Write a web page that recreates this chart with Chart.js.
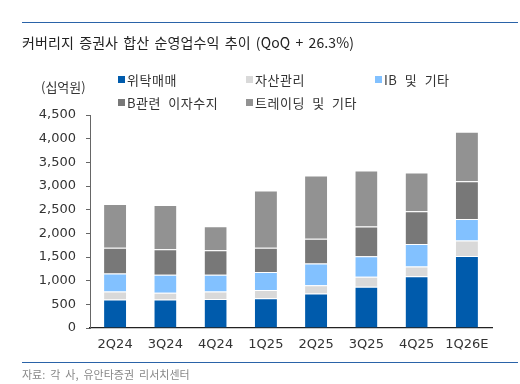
<!DOCTYPE html>
<html>
<head>
<meta charset="utf-8">
<script src="https://cdn.jsdelivr.net/npm/chart.js@4.4.1/dist/chart.umd.min.js"></script>
<style>
    body { margin: 0; background: #fff; }
    #wrap { position: relative; width: 520px; height: 384px; overflow: hidden; font-family: 'Noto Sans CJK KR', sans-serif; }
    #chart { position: absolute; left: 0; top: 0; }
    .rule { position: absolute; left: 22px; width: 496px; height: 1px; background: #2a63a8; }
    #title { position: absolute; left: 22px; top: 32px; font-size: 14px; color: #222; white-space: nowrap; word-spacing: 2px; letter-spacing: 0.1px; }
    #unit { position: absolute; left: 41px; top: 77px; font-size: 13px; color: #333; white-space: nowrap; }
    #source { position: absolute; left: 22px; top: 366px; font-size: 11px; color: #888; white-space: nowrap; word-spacing: 2.5px; }
    .lg { position: absolute; font-size: 13px; color: #333; white-space: nowrap; line-height: 14px; letter-spacing: 0.5px; word-spacing: 4px; }
    .lg i { display: inline-block; width: 7px; height: 7px; margin-right: 2px; vertical-align: 2px; }
</style>
</head>
<body>
<div id="wrap">
    <canvas id="chart" width="520" height="384"></canvas>
    <div class="rule" style="top:22px"></div>
    <div id="title">커버리지 증권사 합산 순영업수익 추이 (QoQ + 26.3%)</div>
    <div id="unit">(십억원)</div>
    <div id="legend"></div>
    <div class="rule" style="top:362px"></div>
    <div id="source">자료: 각 사, 유안타증권 리서치센터</div>
</div>
<script>
// 분기
const categories = ['2Q24', '3Q24', '4Q24', '1Q25', '2Q25', '3Q25', '4Q25', '1Q26E'];

// 항목별 순영업수익 (십억원)
const brokerage = [600, 600, 615, 630, 730, 870, 1095, 1520];   // 위탁매매
const wealth = [170, 145, 155, 175, 175, 215, 205, 330];        // 자산관리
const ib = [380, 380, 355, 380, 460, 430, 475, 455];            // IB 및 기타
const interest = [545, 540, 520, 510, 520, 630, 690, 795];      // B관련 이자수지
const trading = [925, 935, 505, 1210, 1335, 1180, 818, 1045];   // 트레이딩 및 기타

const seriesNames = ['위탁매매', '자산관리', 'IB 및 기타', 'B관련 이자수지', '트레이딩 및 기타'];
const seriesColors = ['#005bac', '#d9d9d9', '#82c1ff', '#787878', '#929292'];
const yTicks = [0, 500, 1000, 1500, 2000, 2500, 3000, 3500, 4000, 4500];

// 범례 (HTML)
const legendPos = [[118, 73], [246, 73], [375, 73], [118, 96], [246, 96]];
const legendEl = document.getElementById('legend');
seriesNames.forEach((name, i) => {
    const d = document.createElement('div');
    d.className = 'lg';
    d.style.left = legendPos[i][0] + 'px';
    d.style.top = legendPos[i][1] + 'px';
    d.innerHTML = '<i style="background:' + seriesColors[i] + '"></i>' + name;
    legendEl.appendChild(d);
});

const values = [brokerage, wealth, ib, interest, trading];
const tickFont = { family: "'DejaVu Sans', sans-serif", size: 13 };

const ctx = document.getElementById('chart').getContext('2d');
new Chart(ctx, {
    type: 'bar',
    data: {
        labels: categories,
        datasets: values.map((v, i) => ({
            label: seriesNames[i],
            data: v,
            backgroundColor: seriesColors[i],
            borderColor: 'rgba(255,255,255,0.3)',
            borderWidth: { top: 1 },
            borderSkipped: false,
            categoryPercentage: 1,
            barPercentage: 0.44
        }))
    },
    options: {
        responsive: false,
        animation: false,
        layout: { padding: { left: 0, right: 28, top: 115, bottom: 0 } },
        plugins: {
            legend: { display: false },
            title: { display: false },
            tooltip: { enabled: false }
        },
        scales: {
            x: {
                stacked: true,
                grid: { display: false, drawTicks: false },
                border: { display: true, color: '#222', width: 1.2 },
                ticks: { color: '#333', font: tickFont, padding: 9, maxRotation: 0 },
                afterFit: function (scale) { scale.height = 56; }
            },
            y: {
                stacked: true,
                min: 0,
                max: 4500,
                afterBuildTicks: function (scale) {
                    scale.ticks = yTicks.map(v => ({ value: v }));
                },
                grid: { drawOnChartArea: false, drawTicks: true, tickLength: 4, color: '#666' },
                border: { display: true, color: '#666', width: 1 },
                ticks: {
                    color: '#333',
                    font: tickFont,
                    padding: 10,
                    callback: function (value) {
                        return value.toLocaleString('en-US');
                    }
                },
                afterFit: function (scale) { scale.width = 90; }
            }
        }
    }
});
</script>
</body>
</html>
